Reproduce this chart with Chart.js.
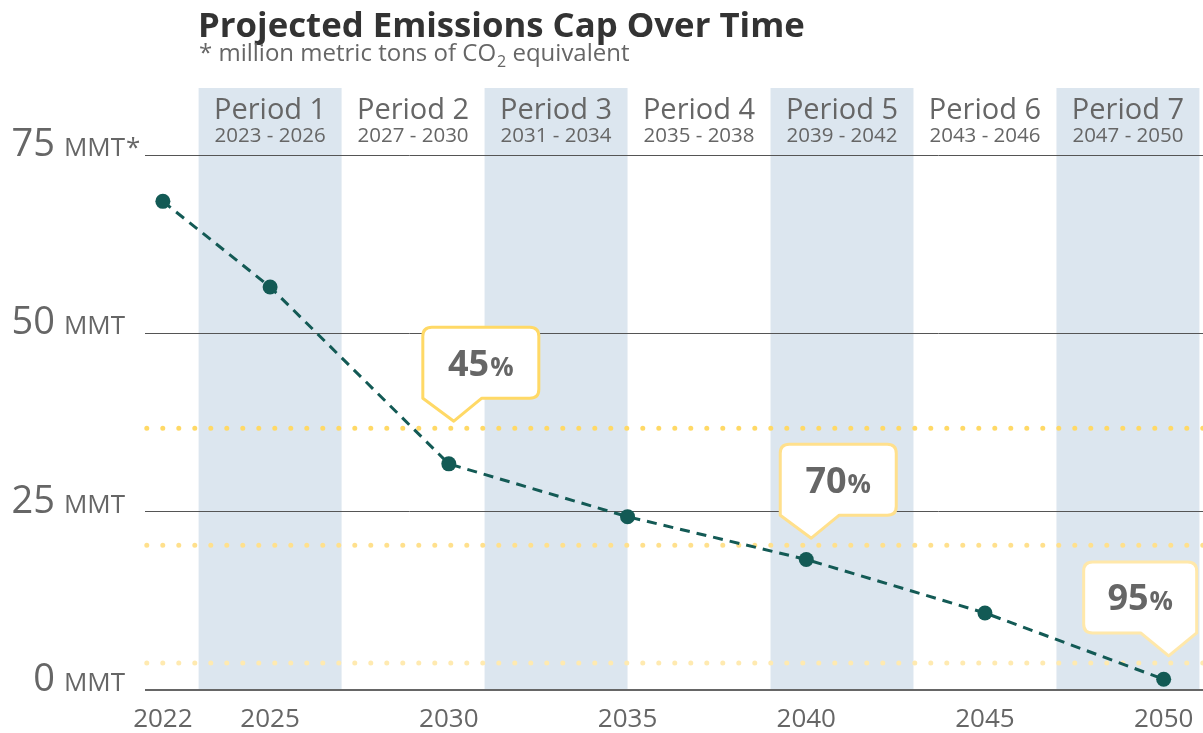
<!DOCTYPE html>
<html>
<head>
<meta charset="utf-8">
<script src="https://cdn.jsdelivr.net/npm/chart.js@4"></script>
<style>
  html, body { margin: 0; padding: 0; background: #ffffff; }
  #wrap { width: 1203px; height: 733px; position: relative; }
</style>
</head>
<body>
<div id="wrap"><canvas id="c" width="1203" height="733"></canvas></div>
<script>
// ---- data ----
const years = [2022, 2025, 2030, 2035, 2040, 2045, 2050];
const capMMT = [68.5, 56.5, 31.7, 24.3, 18.3, 10.8, 1.5];
const xTickYears = [2022, 2025, 2030, 2035, 2040, 2045, 2050];
const yTickValues = [0, 25, 50, 75];
const periodNames = ['Period 1', 'Period 2', 'Period 3', 'Period 4', 'Period 5', 'Period 6', 'Period 7'];
const periodStartYears = [2023, 2027, 2031, 2035, 2039, 2043, 2047];
const periodEndYears = [2026, 2030, 2034, 2038, 2042, 2046, 2050];
const reductionPercents = ['45', '70', '95'];
const reductionLevels = [36.7, 20.3, 3.8];
const reductionYears = [2030, 2040, 2050];
const titleText = 'Projected Emissions Cap Over Time';
const subtitleParts = ['* million metric tons of CO', '2', ' equivalent'];

const FONT = '"Open Sans", Lato, sans-serif';
const GRAY = '#666666';
const X_MIN = 2021.5, X_MAX = 2051.1;
const yellowLine = ['#FFD966', '#FFE08C', '#FFEAB0'];
const yellowBox = ['#FFD966', '#FFE08C', '#FFE8AA'];

const lineDatasets = reductionLevels.map((lvl, i) => ({
  type: 'line',
  data: [{x: X_MIN + 0.05, y: lvl}, {x: X_MAX, y: lvl}],
  borderColor: yellowLine[i],
  borderWidth: 5,
  borderDash: [0, 16],
  borderCapStyle: 'round',
  pointRadius: 0,
  fill: false,
  clip: false,
  order: 2
}));

function fitFont(ctx, text, weight, targetW, base) {
  ctx.font = weight + ' ' + base + 'px ' + FONT;
  const w = ctx.measureText(text).width;
  return base * targetW / w;
}

const decor = {
  id: 'decor',
  beforeDraw(chart) {
    const ctx = chart.ctx, xs = chart.scales.x, area = chart.chartArea;
    ctx.save();
    // bands
    periodStartYears.forEach((s, i) => {
      if (i % 2 === 0) {
        const x0 = xs.getPixelForValue(s);
        const x1 = xs.getPixelForValue(periodEndYears[i] + 1);
        ctx.fillStyle = '#DCE6EF';
        ctx.fillRect(x0, 88, x1 - x0, area.bottom - 88);
      }
    });
    // period headers
    ctx.fillStyle = GRAY;
    ctx.textAlign = 'center';
    ctx.textBaseline = 'alphabetic';
    periodStartYears.forEach((s, i) => {
      const cx = (xs.getPixelForValue(s) + xs.getPixelForValue(periodEndYears[i] + 1)) / 2;
      ctx.font = '29px ' + FONT;
      ctx.fillText(periodNames[i], cx, 119);
      ctx.font = '20.5px ' + FONT;
      ctx.fillText(s + ' - ' + periodEndYears[i], cx, 142);
    });
    // title
    ctx.textAlign = 'left';
    ctx.fillStyle = '#333333';
    const ts = fitFont(ctx, titleText, 'bold', 607, 32);
    ctx.font = 'bold ' + ts + 'px ' + FONT;
    ctx.fillText(titleText, 198, 37);
    // subtitle
    ctx.fillStyle = GRAY;
    const fs = 24;
    ctx.font = fs + 'px ' + FONT;
    let x = 199;
    ctx.fillText(subtitleParts[0], x, 61);
    x += ctx.measureText(subtitleParts[0]).width + 1;
    ctx.font = '16px ' + FONT;
    ctx.fillText(subtitleParts[1], x, 67);
    x += ctx.measureText(subtitleParts[1]).width;
    ctx.font = fs + 'px ' + FONT;
    ctx.fillText(subtitleParts[2], x, 61);
    // y labels
    const ys = chart.scales.y;
    yTickValues.forEach(v => {
      const y = ys.getPixelForValue(v) + 1;
      ctx.font = '26px ' + FONT;
      const unit = 'MMT';
      const uw = ctx.measureText(unit).width;
      const ux = 125 - uw;
      ctx.textAlign = 'left';
      ctx.fillText(unit, ux, y);
      if (v === 75) ctx.fillText('*', ux + uw + 1, y);
      ctx.font = '38px ' + FONT;
      ctx.textAlign = 'right';
      ctx.fillText(String(v), ux - 9, y);
    });
    ctx.restore();
  },
  afterDatasetsDraw(chart) {
    const ctx = chart.ctx, xs = chart.scales.x, ys = chart.scales.y;
    ctx.save();
    reductionLevels.forEach((lvl, i) => {
      const tipX = xs.getPixelForValue(reductionYears[i]) + 5;
      const tipY = ys.getPixelForValue(lvl) - 7;
      const mirror = i === 2;
      let left, right;
      if (!mirror) { left = tipX - 31; right = tipX + 85; }
      else { left = tipX - 85; right = tipX + 28; }
      const top = tipY - 94, bottom = tipY - 23, r = 9;
      ctx.beginPath();
      if (!mirror) {
        ctx.moveTo(left, bottom);
        ctx.lineTo(left, top + r);
        ctx.quadraticCurveTo(left, top, left + r, top);
        ctx.lineTo(right - r, top);
        ctx.quadraticCurveTo(right, top, right, top + r);
        ctx.lineTo(right, bottom - r);
        ctx.quadraticCurveTo(right, bottom, right - r, bottom);
        ctx.lineTo(tipX + 28, bottom);
        ctx.lineTo(tipX, tipY);
        ctx.closePath();
      } else {
        ctx.moveTo(right, bottom);
        ctx.lineTo(right, top + r);
        ctx.quadraticCurveTo(right, top, right - r, top);
        ctx.lineTo(left + r, top);
        ctx.quadraticCurveTo(left, top, left, top + r);
        ctx.lineTo(left, bottom - r);
        ctx.quadraticCurveTo(left, bottom, left + r, bottom);
        ctx.lineTo(tipX - 28, bottom);
        ctx.lineTo(tipX, tipY);
        ctx.closePath();
      }
      ctx.lineJoin = 'round';
      ctx.fillStyle = '#ffffff';
      ctx.fill();
      ctx.strokeStyle = yellowBox[i];
      ctx.lineWidth = 3;
      ctx.stroke();
      // text
      const cx = (left + right) / 2, cy = (top + bottom) / 2;
      ctx.font = 'bold 36px ' + FONT;
      const nw = ctx.measureText(reductionPercents[i]).width;
      ctx.font = 'bold 26px ' + FONT;
      const pw = ctx.measureText('%').width;
      const sx = cx - (nw + pw + 1) / 2;
      ctx.fillStyle = GRAY;
      ctx.textAlign = 'left';
      ctx.textBaseline = 'alphabetic';
      ctx.font = 'bold 36px ' + FONT;
      ctx.fillText(reductionPercents[i], sx, cy + 13);
      ctx.font = 'bold 26px ' + FONT;
      ctx.fillText('%', sx + nw + 1, cy + 13);
    });
    ctx.restore();
  }
};

new Chart(document.getElementById('c'), {
  type: 'line',
  data: {
    datasets: [
      {
        data: years.map((yr, i) => ({x: yr, y: capMMT[i]})),
        borderColor: '#135A55',
        backgroundColor: '#135A55',
        borderWidth: 3,
        borderDash: [10, 7],
        pointRadius: 7.5,
        pointHoverRadius: 7.5,
        pointBackgroundColor: '#135A55',
        pointBorderWidth: 0,
        fill: false,
        tension: 0,
        clip: false,
        order: 1
      },
      ...lineDatasets
    ]
  },
  options: {
    responsive: false,
    animation: false,
    devicePixelRatio: 1,
    layout: { autoPadding: false, padding: { left: 145, right: 0, top: 155, bottom: 0 } },
    plugins: { legend: { display: false }, tooltip: { enabled: false }, title: { display: false } },
    scales: {
      x: {
        type: 'linear',
        min: X_MIN,
        max: X_MAX,
        afterBuildTicks(scale) { scale.ticks = xTickYears.map(v => ({ value: v })); },
        afterFit(scale) { scale.height = 43; scale.paddingLeft = 0; scale.paddingRight = 0; },
        grid: { display: false, drawTicks: false },
        border: { display: false },
        ticks: {
          font: { family: FONT, size: 26 },
          color: GRAY,
          padding: 14,
          maxRotation: 0,
          autoSkip: false,
          callback: v => String(v)
        }
      },
      y: {
        type: 'linear',
        min: 0,
        max: 75,
        afterBuildTicks(scale) { scale.ticks = yTickValues.map(v => ({ value: v })); },
        afterFit(scale) { scale.width = 0; scale.paddingTop = 0; scale.paddingBottom = 0; },
        grid: {
          color: ctx => (ctx.tick && ctx.tick.value === 0) ? '#666666' : '#555555',
          lineWidth: ctx => (ctx.tick && ctx.tick.value === 0) ? 2 : 1,
          drawTicks: false
        },
        border: { display: false },
        ticks: { display: false }
      }
    }
  },
  plugins: [decor]
});
</script>
</body>
</html>
